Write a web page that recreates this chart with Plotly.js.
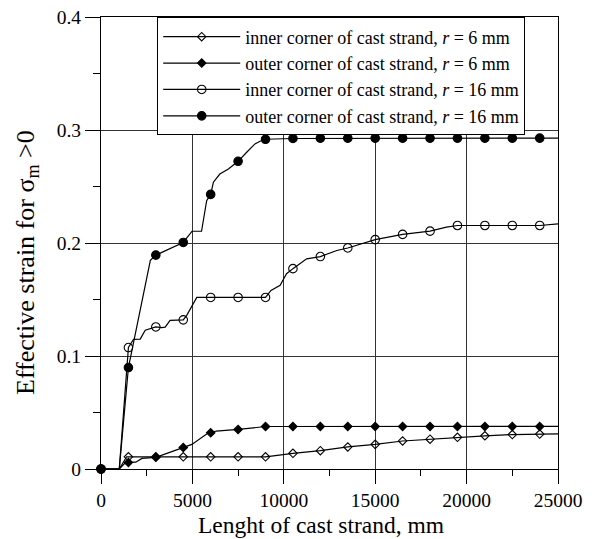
<!DOCTYPE html>
<html>
<head>
<meta charset="utf-8">
<script src="https://cdn.plot.ly/plotly-3.0.1.min.js"></script>
<style>html,body{margin:0;padding:0;background:#fff;}#chart{width:592px;height:539px;}</style>
</head>
<body>
<div id="chart"></div>
<script>
// ---- data ----
var seriesNames = [
  'inner corner of cast strand, <i>r</i> = 6 mm',
  'outer corner of cast strand, <i>r</i> = 6 mm',
  'inner corner of cast strand, <i>r</i> = 16 mm',
  'outer corner of cast strand, <i>r</i> = 16 mm'
];
var xTitle = 'Lenght of cast strand, mm';
var yTitle = 'Effective strain for σ<sub>m</sub> &gt;0';

// marker positions along the strand, mm
var markerX = [0, 1500, 3000, 4500, 6000, 7500, 9000, 10500, 12000, 13500, 15000, 16500, 18000, 19500, 21000, 22500, 24000];

// inner corner, r = 6 mm
var innerR6LineX = [0, 1000, 1400, 9000, 10500, 12000, 13500, 15000, 16500, 18000, 19500, 21000, 22500, 24000, 25000];
var innerR6LineY = [0, 0, 0.0108, 0.0108, 0.0139, 0.0162, 0.0195, 0.0218, 0.0248, 0.0264, 0.0280, 0.0294, 0.0305, 0.0309, 0.0310];
var innerR6Markers = [0, 0.0108, 0.0108, 0.0108, 0.0108, 0.0108, 0.0108, 0.0139, 0.0162, 0.0195, 0.0218, 0.0248, 0.0264, 0.0280, 0.0294, 0.0305, 0.0309];

// outer corner, r = 6 mm
var outerR6LineX = [0, 1000, 1300, 1500, 1900, 2240, 3000, 3600, 4500, 4970, 5800, 6000, 6300, 7500, 8300, 9000, 25000];
var outerR6LineY = [0, 0, 0.0050, 0.0058, 0.0060, 0.0094, 0.0103, 0.0138, 0.0190, 0.0218, 0.0312, 0.0320, 0.0336, 0.0350, 0.0366, 0.0376, 0.0377];
var outerR6Markers = [0, 0.0058, 0.0103, 0.0190, 0.0320, 0.0350, 0.0376, 0.0377, 0.0377, 0.0377, 0.0377, 0.0377, 0.0377, 0.0377, 0.0377, 0.0377, 0.0377];

// inner corner, r = 16 mm
var innerR16LineX = [0, 1000, 1500, 1780, 2145, 2420, 3000, 3330, 3510, 3780, 4500, 4690, 5240, 9000, 9300, 9800, 10150, 10500, 11250, 12000, 12900, 13500, 15000, 16500, 18000, 18500, 18900, 19500, 24000, 25000];
var innerR16LineY = [0, 0, 0.1075, 0.1148, 0.1150, 0.1228, 0.1257, 0.1251, 0.1255, 0.1316, 0.1320, 0.1360, 0.1518, 0.1518, 0.1580, 0.1625, 0.1728, 0.1773, 0.1860, 0.1880, 0.1934, 0.1956, 0.2030, 0.2076, 0.2105, 0.2125, 0.2140, 0.2155, 0.2155, 0.2170];
var innerR16Markers = [0, 0.1075, 0.1257, 0.1320, 0.1518, 0.1518, 0.1518, 0.1773, 0.1880, 0.1956, 0.2030, 0.2076, 0.2105, 0.2155, 0.2155, 0.2155, 0.2155];

// outer corner, r = 16 mm
var outerR16LineX = [0, 1000, 1500, 2700, 3000, 3500, 3950, 4500, 4980, 5500, 5780, 6000, 6150, 6500, 6970, 7500, 7970, 8420, 8700, 9000, 10500, 25000];
var outerR16LineY = [0, 0, 0.0898, 0.1846, 0.1893, 0.1930, 0.1958, 0.2005, 0.2104, 0.2104, 0.2375, 0.2430, 0.2538, 0.2610, 0.2655, 0.2723, 0.2803, 0.2877, 0.2900, 0.2918, 0.2925, 0.2928];
var outerR16Markers = [0, 0.0898, 0.1893, 0.2005, 0.2430, 0.2723, 0.2918, 0.2925, 0.2928, 0.2928, 0.2928, 0.2928, 0.2928, 0.2928, 0.2928, 0.2928, 0.2928];

// ---- styling ----
var FONT = 'Liberation Serif';
var lineStyle = {color: '#000', width: 1.2};
var symbols = ['diamond-open', 'diamond', 'circle-open', 'circle'];
var sizes = [6.5, 6.5, 8.5, 8.5];
function mk(i) {
  return {symbol: symbols[i], size: sizes[i], color: '#000', line: {color: '#000', width: 1.1}};
}

var lines = [
  [innerR6LineX, innerR6LineY],
  [outerR6LineX, outerR6LineY],
  [innerR16LineX, innerR16LineY],
  [outerR16LineX, outerR16LineY]
];
var markerYs = [innerR6Markers, outerR6Markers, innerR16Markers, outerR16Markers];

var traces = [];
for (var i = 0; i < 4; i++) {
  traces.push({x: lines[i][0], y: lines[i][1], mode: 'lines', line: lineStyle,
               showlegend: false, hoverinfo: 'skip', cliponaxis: false});
}
for (var j = 0; j < 4; j++) {
  traces.push({x: markerX, y: markerYs[j], mode: 'markers', marker: mk(j),
               showlegend: false, cliponaxis: false});
}
for (var k = 0; k < 4; k++) {
  traces.push({x: [null], y: [null], mode: 'lines+markers', name: seriesNames[k],
               line: lineStyle, marker: mk(k), showlegend: true});
}

var layout = {
  width: 592, height: 539,
  margin: {l: 101, r: 34, t: 17, b: 70},
  paper_bgcolor: '#fff', plot_bgcolor: '#fff',
  font: {family: FONT, color: '#000', size: 19},
  showlegend: true,
  legend: {
    x: 0.123, y: 0.999, xanchor: 'left', yanchor: 'top',
    bgcolor: '#fff', bordercolor: '#000', borderwidth: 1,
    font: {family: FONT, size: 18, color: '#000'},
    itemwidth: 77, tracegroupgap: 0
  },
  xaxis: {
    range: [0, 25000], dtick: 5000, tick0: 0, tickformat: 'd',
    showline: true, linecolor: '#000', linewidth: 1, mirror: true,
    showgrid: true, gridcolor: '#333', gridwidth: 1, zeroline: false,
    ticks: 'outside', ticklen: 14, tickcolor: '#000', tickwidth: 1,
    minor: {dtick: 2500, ticks: 'outside', ticklen: 6, tickcolor: '#000', showgrid: false},
    tickfont: {family: FONT, size: 19.5, color: '#000'}
  },
  yaxis: {
    range: [0, 0.4], dtick: 0.1, tick0: 0,
    showline: true, linecolor: '#000', linewidth: 1, mirror: true,
    showgrid: true, gridcolor: '#333', gridwidth: 1, zeroline: false,
    ticks: 'outside', ticklen: 15, tickcolor: '#000', tickwidth: 1,
    minor: {dtick: 0.05, ticks: 'outside', ticklen: 7, tickcolor: '#000', showgrid: false},
    tickfont: {family: FONT, size: 19.5, color: '#000'}
  },
  annotations: [
    {text: xTitle, xref: 'paper', yref: 'paper', x: 0.4814, y: -0.124,
     xanchor: 'center', yanchor: 'middle', showarrow: false,
     font: {family: FONT, size: 23.5, color: '#000'}},
    {text: yTitle, xref: 'paper', yref: 'paper', x: -0.162, y: 0.458, textangle: -90,
     xanchor: 'center', yanchor: 'middle', showarrow: false,
     font: {family: FONT, size: 26, color: '#000'}}
  ]
};

Plotly.newPlot('chart', traces, layout, {staticPlot: true, displayModeBar: false});
</script>
</body>
</html>
